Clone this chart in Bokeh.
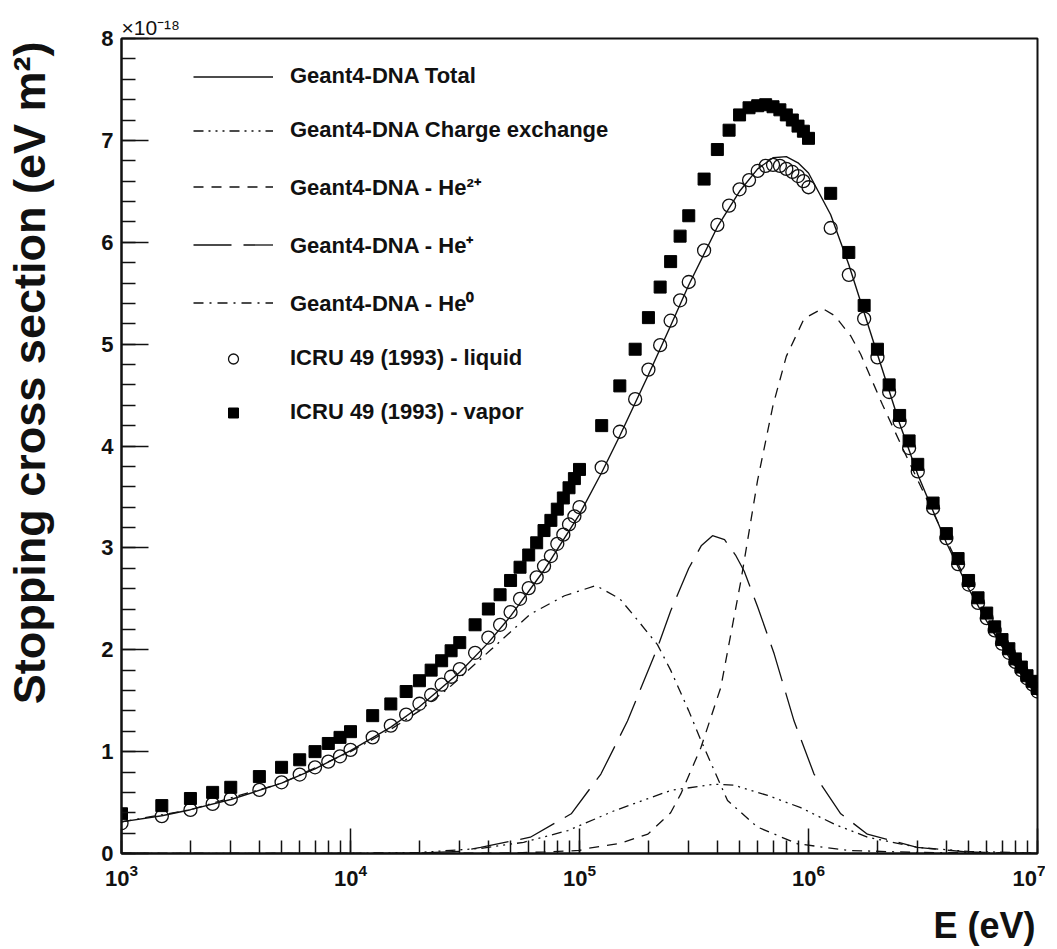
from bokeh.plotting import figure
from bokeh.models import (Range1d, LogTicker, SingleIntervalTicker, Title,
                          Legend, LegendItem)
from bokeh.embed import file_html
from bokeh.resources import INLINE

# ---------------- data (energies in keV, values in 1e-18 eV m^2) ----------------
E_icru_keV = [1, 1.5, 2, 2.5, 3, 4, 5, 6, 7, 8, 9, 10,
              12.5, 15, 17.5, 20, 22.5, 25, 27.5, 30,
              35, 40, 45, 50, 55, 60, 65, 70, 75, 80, 85, 90, 95, 100,
              125, 150, 175, 200, 225, 250, 275, 300,
              350, 400, 450, 500, 550, 600, 650, 700, 750, 800, 850, 900, 950, 1000,
              1250, 1500, 1750, 2000, 2250, 2500, 2750, 3000,
              3500, 4000, 4500, 5000, 5500, 6000, 6500, 7000, 7500, 8000, 8500, 9000, 9500, 10000]

icru_liquid = [0.297, 0.366, 0.428, 0.487, 0.536, 0.624, 0.699, 0.775, 0.846, 0.902, 0.954, 1.017,
               1.14, 1.255, 1.363, 1.47, 1.556, 1.657, 1.735, 1.81,
               1.97, 2.12, 2.245, 2.37, 2.50, 2.605, 2.71, 2.82, 2.92, 3.04, 3.13, 3.23, 3.31, 3.40,
               3.79, 4.14, 4.46, 4.75, 4.99, 5.23, 5.43, 5.61,
               5.92, 6.17, 6.36, 6.52, 6.61, 6.70, 6.75, 6.76, 6.75, 6.72, 6.69, 6.65, 6.60, 6.54,
               6.14, 5.68, 5.25, 4.87, 4.53, 4.24, 3.98, 3.75,
               3.39, 3.095, 2.84, 2.64, 2.46, 2.31, 2.19, 2.06, 1.97, 1.88, 1.80, 1.72, 1.66, 1.59]

icru_vapor = [0.39, 0.47, 0.54, 0.60, 0.65, 0.755, 0.846, 0.92, 1.00, 1.08, 1.14, 1.196,
              1.353, 1.468, 1.59, 1.696, 1.80, 1.892, 1.99, 2.07,
              2.245, 2.40, 2.54, 2.68, 2.81, 2.93, 3.05, 3.17, 3.27, 3.38, 3.49, 3.59, 3.68, 3.77,
              4.20, 4.59, 4.95, 5.26, 5.56, 5.81, 6.06, 6.26,
              6.62, 6.91, 7.10, 7.25, 7.32, 7.34, 7.35, 7.33, 7.30, 7.25, 7.20, 7.14, 7.09, 7.02,
              6.48, 5.90, 5.38, 4.95, 4.60, 4.30, 4.05, 3.82,
              3.44, 3.14, 2.895, 2.68, 2.51, 2.36, 2.225, 2.10, 2.01, 1.91, 1.83, 1.745, 1.69, 1.62]

E_total_keV = [1, 1.5, 2, 3, 5, 7, 10, 15, 20, 30, 40, 50, 70, 100, 125, 150, 200, 250, 300,
               400, 500, 600, 700, 800, 900, 1000, 1250, 1500, 2000, 2500, 3000, 4000, 5000,
               6000, 7000, 8000, 9000, 10000]
g4_total = [0.31, 0.37, 0.43, 0.53, 0.69, 0.83, 1.01, 1.24, 1.44, 1.78, 2.07, 2.33, 2.78, 3.33,
            3.74, 4.10, 4.70, 5.18, 5.58, 6.15, 6.50, 6.72, 6.83, 6.84, 6.78, 6.68, 6.27, 5.78,
            4.90, 4.22, 3.72, 3.05, 2.60, 2.28, 2.03, 1.84, 1.68, 1.55]

E_cx_keV = [1, 10, 20, 37, 57, 89, 142, 251, 387, 473, 663, 925, 1290, 1810, 3000, 5000, 10000]
g4_charge_exchange = [0.0, 0.002, 0.01, 0.05, 0.11, 0.225, 0.42, 0.62, 0.68, 0.67, 0.57, 0.45,
                      0.29, 0.16, 0.06, 0.02, 0.005]

E_he2_keV = [1, 20, 50, 70, 100, 109, 150, 199, 250, 277, 339, 414, 507, 599, 700, 800, 957,
             1150, 1300, 1530, 1690, 2100, 2650, 3410, 4460, 6000, 8000, 10000]
g4_he2 = [0.0, 0.0, 0.005, 0.015, 0.03, 0.05, 0.10, 0.19, 0.40, 0.585, 1.04, 1.63, 2.68, 3.66,
          4.40, 4.88, 5.25, 5.35, 5.28, 5.08, 4.90, 4.41, 3.92, 3.40, 2.86, 2.28, 1.83, 1.54]

E_he1_keV = [1, 10, 20, 30, 37, 61, 92, 124, 162, 219, 250, 300, 340, 381, 430, 480, 524, 600,
             708, 865, 1057, 1383, 1808, 2980, 4900, 10000]
g4_he1 = [0.0, 0.0, 0.005, 0.02, 0.06, 0.16, 0.39, 0.78, 1.30, 2.02, 2.38, 2.80, 3.02, 3.12,
          3.08, 2.93, 2.77, 2.42, 1.96, 1.30, 0.78, 0.39, 0.19, 0.06, 0.015, 0.002]

E_he0_keV = [1, 2, 5, 10, 15, 20, 27, 41, 61, 86, 118, 150, 175, 219, 250, 300, 339, 443, 598,
             895, 1500, 3000, 10000]
g4_he0 = [0.31, 0.43, 0.69, 1.00, 1.22, 1.40, 1.63, 2.00, 2.35, 2.53, 2.63, 2.50, 2.32, 2.05,
          1.80, 1.40, 1.11, 0.52, 0.26, 0.095, 0.03, 0.01, 0.003]


def ev(lst):
    return [v * 1e3 for v in lst]


FONT = "Liberation Sans"
INK = "#111111"
EM = "\u2003"

p = figure(width=1045, height=949, x_axis_type="log",
           x_range=Range1d(1e3, 1e7), y_range=Range1d(0, 8),
           output_backend="svg", toolbar_location=None,
           min_border_left=121, min_border_right=8,
           min_border_top=38, min_border_bottom=96)
p.xgrid.visible = False
p.ygrid.visible = False
p.outline_line_color = INK
p.outline_line_width = 2
p.outline_line_alpha = 1
p.background_fill_color = "white"
p.border_fill_color = "white"

# axes
p.xaxis.ticker = LogTicker(num_minor_ticks=10)
p.yaxis.ticker = SingleIntervalTicker(interval=1, num_minor_ticks=5)
for ax in (p.xaxis, p.yaxis):
    ax.axis_line_color = INK
    ax.axis_line_width = 2
    ax.major_tick_line_color = INK
    ax.minor_tick_line_color = INK
    ax.major_tick_line_width = 1.5
    ax.minor_tick_line_width = 1.5
    ax.major_tick_out = 0
    ax.minor_tick_out = 0
    ax.major_label_text_font = FONT
    ax.major_label_text_font_style = "bold"
    ax.major_label_text_color = INK
    ax.major_label_text_font_size = "22px"
    ax.axis_label_text_font = FONT
    ax.axis_label_text_font_style = "bold"
    ax.axis_label_text_color = INK
p.yaxis.major_tick_in = 27
p.yaxis.minor_tick_in = 14
p.xaxis.major_tick_in = 25
p.xaxis.minor_tick_in = 13
p.yaxis.major_label_standoff = 8
p.xaxis.major_label_standoff = 10

# axis titles: centred labels, shifted towards the axis end with leading wide spaces
p.yaxis.axis_label = EM * 3 + "\u2005" + "Stopping cross section (eV m²)"
p.yaxis.axis_label_text_font_size = "45px"
p.yaxis.axis_label_standoff = 43
p.xaxis.axis_label = EM * 22 + "\u2002" + "E (eV)"
p.xaxis.axis_label_text_font_size = "36px"
p.xaxis.axis_label_standoff = 16

# curves
r_total = p.line(ev(E_total_keV), g4_total, line_color=INK, line_width=1.4)
r_cx = p.line(ev(E_cx_keV), g4_charge_exchange, line_color=INK, line_width=1.3,
              line_dash="10 5 2 5 2 5 2 5")
r_he2 = p.line(ev(E_he2_keV), g4_he2, line_color=INK, line_width=1.3, line_dash="10 8")
r_he1 = p.line(ev(E_he1_keV), g4_he1, line_color=INK, line_width=1.3, line_dash="38 12")
r_he0 = p.line(ev(E_he0_keV), g4_he0, line_color=INK, line_width=1.3, line_dash="10 6 2 6")
r_liq = p.scatter(ev(E_icru_keV), icru_liquid, marker="circle", size=13,
                  fill_alpha=0, line_color=INK, line_width=1.3)
r_vap = p.scatter(ev(E_icru_keV), icru_vapor, marker="square", size=12,
                  fill_color="black", line_color="black")

legend = Legend(items=[
    LegendItem(label="Geant4-DNA Total", renderers=[r_total]),
    LegendItem(label="Geant4-DNA Charge exchange", renderers=[r_cx]),
    LegendItem(label="Geant4-DNA - He²⁺", renderers=[r_he2]),
    LegendItem(label="Geant4-DNA - He⁺", renderers=[r_he1]),
    LegendItem(label="Geant4-DNA - He⁰", renderers=[r_he0]),
    LegendItem(label="ICRU 49 (1993) - liquid", renderers=[r_liq]),
    LegendItem(label="ICRU 49 (1993) - vapor", renderers=[r_vap]),
], location=(72, 428))
legend.glyph_width = 80
legend.glyph_height = 25
legend.label_height = 25
legend.spacing = 28
legend.padding = 0
legend.margin = 0
legend.label_standoff = 17
legend.label_text_font = FONT
legend.label_text_font_style = "bold"
legend.label_text_font_size = "22px"
legend.label_text_color = INK
legend.background_fill_alpha = 0
legend.border_line_alpha = 0
p.add_layout(legend)

# multiplier (above the frame, left aligned)
p.add_layout(Title(text="×10⁻¹⁸", align="left", text_font=FONT,
                   text_font_style="normal", text_font_size="21px",
                   text_color=INK, standoff=0, offset=0), "above")

open("out.html", "w").write(file_html(p, INLINE))
